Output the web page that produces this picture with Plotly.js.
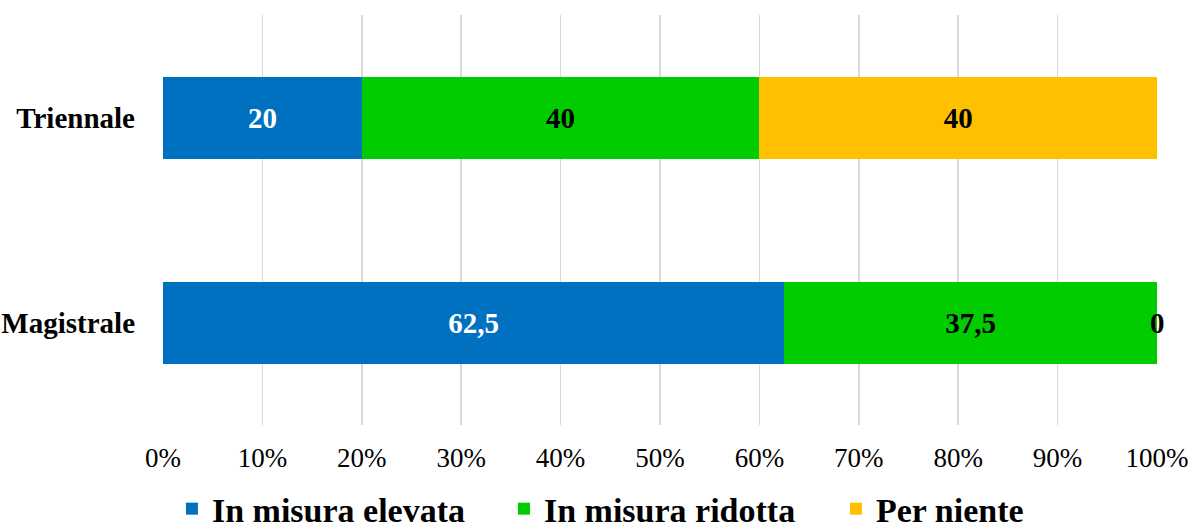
<!DOCTYPE html>
<html>
<head>
<meta charset="utf-8">
<script src="https://cdn.plot.ly/plotly-3.0.1.min.js"></script>
<style>html,body{margin:0;padding:0;background:#fff}#chart{width:1193px;height:532px}</style>
</head>
<body>
<div id="chart"></div>
<script>
const categories = ["Triennale", "Magistrale"];
const seriesNames = ["In misura elevata", "In misura ridotta", "Per niente"];
const elevata = [20, 62.5];
const ridotta = [40, 37.5];
const perNiente = [40, 0];
const tickVals = [0, 10, 20, 30, 40, 50, 60, 70, 80, 90, 100];
const tickText = ["0%", "10%", "20%", "30%", "40%", "50%", "60%", "70%", "80%", "90%", "100%"];

const colors = ["#0070C0", "#00CC00", "#FFC000"];
const textColors = ["#ffffff", "#000000", "#000000"];
const allSeries = [elevata, ridotta, perNiente];
const serif = "Liberation Serif, DejaVu Serif, serif";

const fmt = v => String(v).replace('.', ',');

const traces = allSeries.map((vals, i) => ({
  type: 'bar',
  orientation: 'h',
  name: seriesNames[i],
  y: categories,
  x: vals,
  marker: {color: colors[i]},
  text: vals.map(v => v === 0 ? '' : fmt(v)),
  textposition: 'inside',
  insidetextanchor: 'middle',
  textangle: 0,
  constraintext: 'none',
  textfont: {family: serif, size: 29, color: textColors[i], weight: 'bold'},
  hoverinfo: 'none'
}));

// labels for zero-valued segments, placed at their stacked position
const annotations = [];
categories.forEach((c, ci) => {
  let cum = 0;
  allSeries.forEach((vals, si) => {
    if (vals[ci] === 0) {
      annotations.push({x: cum, y: c, xref: 'x', yref: 'y', text: '<b>' + fmt(vals[ci]) + '</b>',
        showarrow: false, xanchor: 'center', yanchor: 'middle',
        font: {family: serif, size: 29, color: '#000'}});
    }
    cum += vals[ci];
  });
});

const layout = {
  width: 1193, height: 532,
  barmode: 'stack',
  bargap: 0.6,
  margin: {l: 163, r: 36, t: 15, b: 107, autoexpand: false},
  paper_bgcolor: '#fff', plot_bgcolor: '#fff',
  separators: ',.',
  xaxis: {
    range: [0, 100], tickvals: tickVals, ticktext: tickText,
    showgrid: true, gridcolor: '#d9d9d9', gridwidth: 1.5, zeroline: false,
    showline: false, ticks: '', fixedrange: true, automargin: false,
    ticklabelstandoff: 14,
    tickfont: {family: serif, size: 27, color: '#000'}
  },
  yaxis: {
    type: 'category', categoryorder: 'array', categoryarray: ["Magistrale", "Triennale"],
    range: [-0.5, 1.5], showgrid: false, zeroline: false, showline: false, ticks: '',
    automargin: false,
    ticklabelstandoff: 27,
    tickfont: {family: serif, size: 29, color: '#000', weight: 'bold'}
  },
  showlegend: true,
  legend: {
    orientation: 'h', x: 0.51, xanchor: 'center', xref: 'paper',
    y: -0.205, yanchor: 'middle', yref: 'paper',
    font: {family: serif, size: 34, color: '#000', weight: 'bold'},
    traceorder: 'normal', itemwidth: 30,
    entrywidth: 287, entrywidthmode: 'pixels'
  },
  annotations: annotations
};

Plotly.newPlot('chart', traces, layout, {displayModeBar: false, staticPlot: true});
</script>
</body>
</html>
